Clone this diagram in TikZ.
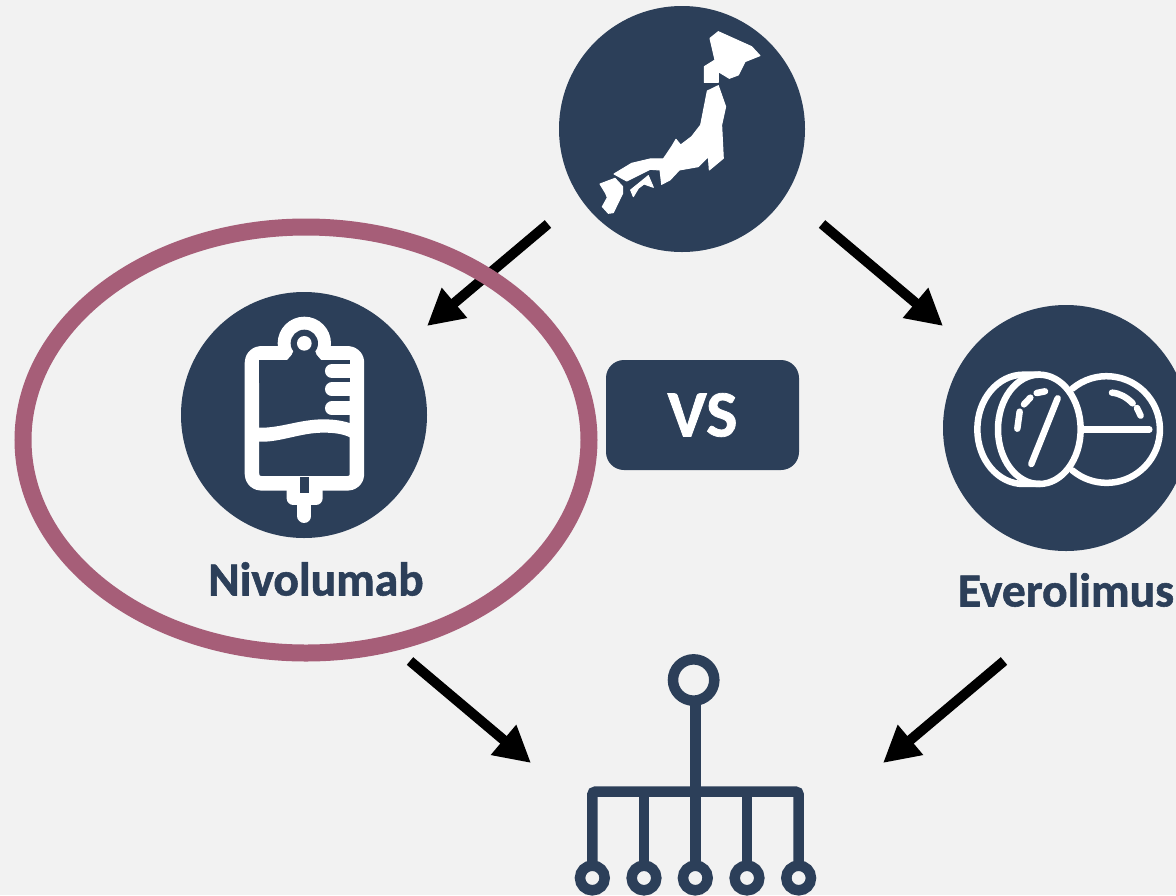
\documentclass[tikz,border=0pt]{standalone}
\usepackage{fontspec}
\setmainfont{Carlito}[BoldFeatures={FakeBold=1.2}]
\usetikzlibrary{arrows.meta,shapes.geometric}
\definecolor{navy}{HTML}{2C3F59}
\definecolor{rose}{HTML}{A65E78}
\definecolor{bgc}{HTML}{F2F2F2}
\tikzset{
  disc/.style={circle,fill=navy,minimum size=246pt,inner sep=0pt},
  flow/.style={line width=10pt,-{Triangle[length=36pt,width=37pt]}},
  iconline/.style={draw=white,line width=6.5pt,line cap=round},
  bagline/.style={draw=white,line width=14.5pt,line cap=round,line join=round},
  treeline/.style={draw=navy,line width=10.5pt},
  isle/.style={fill=white,draw=white,line width=1pt,line join=round},
  lab/.style={text=navy,font=\bfseries\fontsize{47.5}{48}\selectfont,inner sep=0pt},
}
\begin{document}
\begin{tikzpicture}[x=1pt,y=-1pt]
\path[use as bounding box,fill=bgc] (0,0) rectangle (1176,895);
\begin{scope}
\clip (0,0) rectangle (1176,895);
\node[disc] (japan) at (682,129) {};
\node[disc] (nivo) at (304,415) {};
\node[disc] (evero) at (1066,428) {};
\node[fill=navy,rounded corners=18pt,minimum width=193pt,minimum height=110pt,inner sep=0pt,text=white,font=\bfseries\fontsize{66}{66}\selectfont] (vs) at (702.5,415) {VS};
\node[lab] (nivolab) at (316,579) {Nivolumab};
\node[lab,anchor=center] (everolab) at (1066,590) {Everolimus};

% Japan
\begin{scope}[shift={(570,10)},x=0.3333pt,y=-0.3333pt]
\path[isle] (420,85)--(445,65)--(545,110)--(570,137)--(525,155)--(505,195)--(478,205)--(445,185)--(445,217)--(403,217)--(403,170)--(435,150)--cycle;
\path[isle] (412,243)--(445,227)--(467,290)--(455,345)--(460,445)--(418,480)--(415,440)--(385,470)--(328,480)--(300,510)--(275,523)--(270,480)--(240,478)--(170,513)--(132,492)--(185,460)--(240,447)--(280,447)--(305,410)--(318,388)--(332,405)--(365,380)--(392,345)--cycle;
\path[isle] (182,540)--(235,497)--(250,532)--(222,522)--(205,535)--(190,560)--cycle;
\path[isle] (90,522)--(135,505)--(158,530)--(158,550)--(130,608)--(115,610)--(97,590)--(112,563)--(107,550)--cycle;
\end{scope}

% IV bag
\begin{scope}[shift={(220,300)},x=0.3333pt,y=-0.3333pt]
\fill[white] (253,130) circle[radius=80];
\draw[bagline,rounded corners=9pt] (96,160) rectangle (411,550);
\fill[white] (200,560) -- (308,560) -- (308,595) arc[start angle=0,end angle=90,radius=20] -- (220,615) arc[start angle=90,end angle=180,radius=20] -- cycle;
\draw[white,line width=14pt,line cap=round] (253,610) -- (253,648);
\fill[navy] (240,530) rectangle (268,578);
\fill[navy] (253,130) circle[radius=41];
\fill[navy] (222,150) -- (284,150) -- (290,165) -- (305,182) -- (200,182) -- (215,165) -- cycle;
\fill[navy] (118,180) rectangle (390,250);
\fill[white] (253,130) circle[radius=22];
\fill[white] (118,383) .. controls (180,385) and (240,358) .. (310,358) .. controls (345,358) and (370,363) .. (392,370) -- (392,413) .. controls (370,402) and (345,398) .. (310,398) .. controls (240,398) and (180,428) .. (116,425) -- (116,383) -- cycle;
\draw[white,line width=14pt,line cap=round] (336,213) -- (395,213);
\draw[white,line width=14pt,line cap=round] (336,268) -- (395,268);
\draw[white,line width=14pt,line cap=round] (336,325) -- (395,325);
\end{scope}

% Pills
\begin{scope}[shift={(960,350)},x=0.3333pt,y=-0.3333pt]
\draw[iconline] (238,238) ellipse[x radius=124,y radius=164];
\draw[iconline] (240,74) -- (190,74) arc[start angle=270,end angle=90,x radius=138,y radius=164] -- (240,402);
\draw[iconline] (337,116) arc[start angle=-130,end angle=130,radius=160];
\draw[iconline] (372,238) -- (568,238);
\draw[iconline] (293,145) -- (214,342);
\draw[iconline] (172,236) -- (179,185);
\draw[iconline] (192,163) -- (211,143);
\draw[iconline] (230,129) -- (255,124);
\draw[iconline] (456,128) .. controls (480,130) and (500,142) .. (518,160);
\draw[iconline] (531,174) -- (542,197);
\end{scope}

% Tree
\begin{scope}[shift={(560,650)},x=0.3333pt,y=-0.3333pt]
\draw[treeline] (401,90) circle[radius=62];
\draw[treeline] (406,150) -- (406,650);
\draw[treeline,rounded corners=3pt] (97,650) -- (97,425) -- (716,425) -- (716,650);
\draw[treeline] (252,425) -- (252,650);
\draw[treeline] (561,425) -- (561,650);
\foreach \cx in {97,252,406,561,716}{
  \draw[treeline,fill=bgc] (\cx,684) circle[radius=37];
}
\end{scope}

% Arrows
\coordinate (a1s) at (548,224); \coordinate (a1e) at (427,326);
\coordinate (a2s) at (822,224); \coordinate (a2e) at (943,326);
\coordinate (a3s) at (410,661); \coordinate (a3e) at (531,763);
\coordinate (a4s) at (1004,661); \coordinate (a4e) at (883,763);
\draw[flow] (a1s) -- (a1e);
\draw[flow] (a2s) -- (a2e);
\draw[flow] (a3s) -- (a3e);
\draw[flow] (a4s) -- (a4e);
\node[draw=rose,line width=17pt,ellipse,minimum width=566pt,minimum height=426pt,inner sep=0pt] (ring) at (306,440) {};
\end{scope}
\end{tikzpicture}
\end{document}
